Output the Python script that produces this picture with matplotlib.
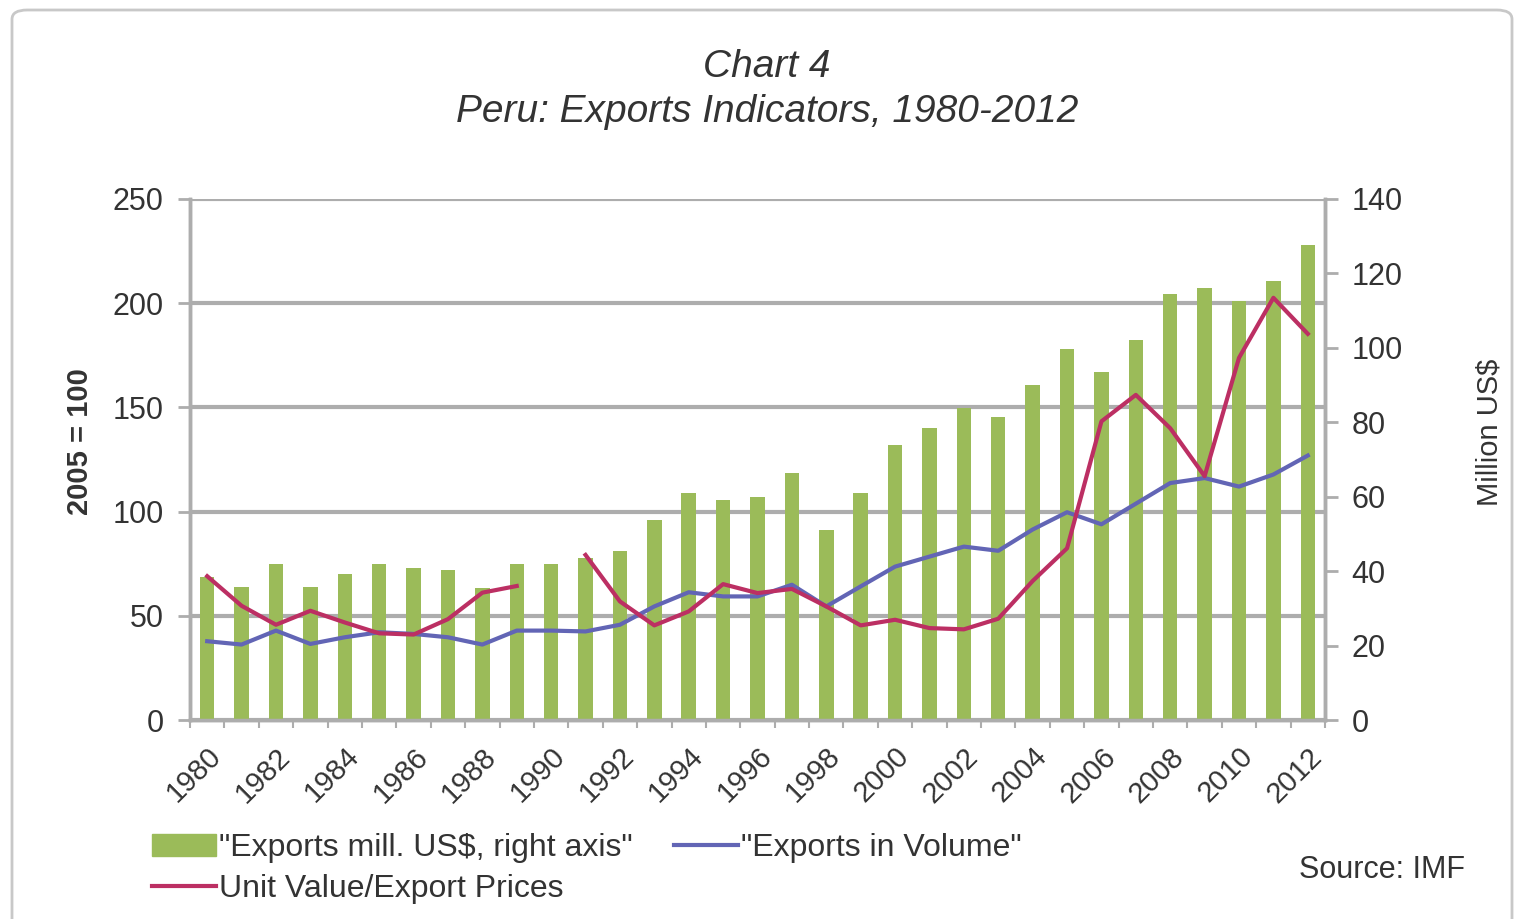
import numpy as np
import matplotlib
matplotlib.use('Agg')
import matplotlib.pyplot as plt
from matplotlib.patches import FancyBboxPatch

plt.rcParams['font.family'] = ['Liberation Sans', 'DejaVu Sans']

# data
years = list(range(1980, 2013))
exports_musd = [38.5, 35.7, 41.8, 35.7, 39.3, 41.8, 40.9, 40.2, 35.6, 41.8,
                41.8, 43.5, 45.3, 53.8, 60.9, 59.1, 60.0, 66.3, 51.1, 60.9,
                73.9, 78.4, 83.9, 81.3, 89.9, 99.6, 93.4, 102.2, 114.5, 116.1,
                112.6, 118.0, 127.6]
volume = [37.8, 36.2, 42.9, 36.5, 39.7, 42.1, 41.3, 39.7, 36.2, 42.9,
          42.9, 42.5, 45.7, 54.5, 61.3, 59.3, 59.3, 64.9, 54.5, 64.1,
          73.6, 78.4, 83.2, 81.2, 91.4, 99.7, 93.9, 103.8, 113.7, 116.1,
          112.0, 117.8, 126.9]
unit_value = [69.0, 54.8, 45.7, 52.4, 46.8, 41.6, 41.0, 48.4, 61.1, 64.3,
              np.nan, 79.2, 56.9, 45.4, 52.1, 65.2, 60.9, 62.9, 54.5, 45.4,
              48.1, 44.1, 43.5, 48.6, 66.7, 82.4, 143.3, 156.0, 140.0, 117.0,
              173.8, 202.6, 185.3]

green = '#9BBB59'
blue = '#6265B5'
red = '#BC2F63'
grid_c = '#ADADAD'
txt_c = '#333333'

x = np.arange(len(years))

fig = plt.figure(figsize=(15.18, 9.19), dpi=100)
fig.patch.set_facecolor('white')

# chart frame
frame = FancyBboxPatch((12 / 1518, -0.05), 1500 / 1518, 1.05 - 10 / 919,
                       boxstyle='round,pad=0,rounding_size=0.01',
                       transform=fig.transFigure, facecolor='none',
                       edgecolor='#C8C8C8', lw=2)
fig.patches.append(frame)

ax = fig.add_axes([190 / 1518, 1 - 720 / 919, 1135 / 1518, 521 / 919])
ax2 = ax.twinx()

# left axis: gridlines
ax.set_ylim(0, 250)
ax.set_xlim(-0.5, len(years) - 0.5)
ax.set_yticks([0, 50, 100, 150, 200, 250])
ax.yaxis.grid(True, color=grid_c, lw=3)
ax.set_axisbelow(True)
ax.tick_params(axis='y', direction='out', length=9, width=2, color=grid_c,
               labelsize=22, labelcolor=txt_c, pad=10)

# bars on right axis
ax2.set_ylim(0, 140)
ax2.set_yticks(range(0, 141, 20))
ax2.bar(x, exports_musd, width=0.42, color=green, zorder=2)
ax2.tick_params(axis='y', direction='out', length=9, width=2, color=grid_c,
                labelsize=22, labelcolor=txt_c, pad=10)

# lines drawn over the bars, in left-axis units
ax2.plot(x, volume, color=blue, lw=3, transform=ax.transData, zorder=3)
ax2.plot(x, unit_value, color=red, lw=3, transform=ax.transData, zorder=4)
ax2.set_xlim(-0.5, len(years) - 0.5)

for a in (ax, ax2):
    a.spines['top'].set_visible(False)
    for s in ('left', 'right', 'bottom'):
        a.spines[s].set_color(grid_c)
        a.spines[s].set_linewidth(2.5)

ax.set_xticks(x[::2])
ax.set_xticklabels([str(y) for y in years[::2]], rotation=45, ha='right',
                   rotation_mode='anchor', fontsize=21, color=txt_c)
ax.set_xticks(np.arange(-0.5, len(years), 1), minor=True)
ax.tick_params(axis='x', which='major', length=0, pad=16)
ax.tick_params(axis='x', which='minor', direction='out', length=6, width=1.5,
               color=grid_c)

# axis titles
fig.text(80 / 1518, 1 - 442 / 919, '2005 = 100', rotation=90, ha='center',
         va='center', fontsize=21, fontweight='bold', color=txt_c)
fig.text(1490 / 1518, 1 - 432 / 919, 'Million US$', rotation=90, ha='center',
         va='center', fontsize=21, color=txt_c)

fig.text(767 / 1518, 1 - 67 / 919, 'Chart 4', ha='center', va='center',
         fontsize=28, style='italic', color=txt_c)
fig.text(767 / 1518, 1 - 112 / 919, 'Peru: Exports Indicators, 1980-2012',
         ha='center', va='center', fontsize=28, style='italic', color=txt_c)

h_bar = plt.Rectangle((0, 0), 1, 1, color=green)
h_vol, = ax.plot([], [], color=blue, lw=3)
h_uv, = ax.plot([], [], color=red, lw=3)
fig.legend([h_bar, h_uv, h_vol],
           ['"Exports mill. US$, right axis"', 'Unit Value/Export Prices',
            '"Exports in Volume"'],
           ncol=2, loc='upper left', bbox_to_anchor=(136 / 1518, 1 - 817 / 919),
           frameon=False, fontsize=23, handlelength=2.0, handletextpad=0.1,
           columnspacing=1.3, labelspacing=0.35, borderpad=0,
           labelcolor=txt_c)

fig.text(1465 / 1518, 1 - 870 / 919, 'Source: IMF', ha='right', va='center',
         fontsize=22, color=txt_c)

fig.savefig('out.png', dpi=100)
